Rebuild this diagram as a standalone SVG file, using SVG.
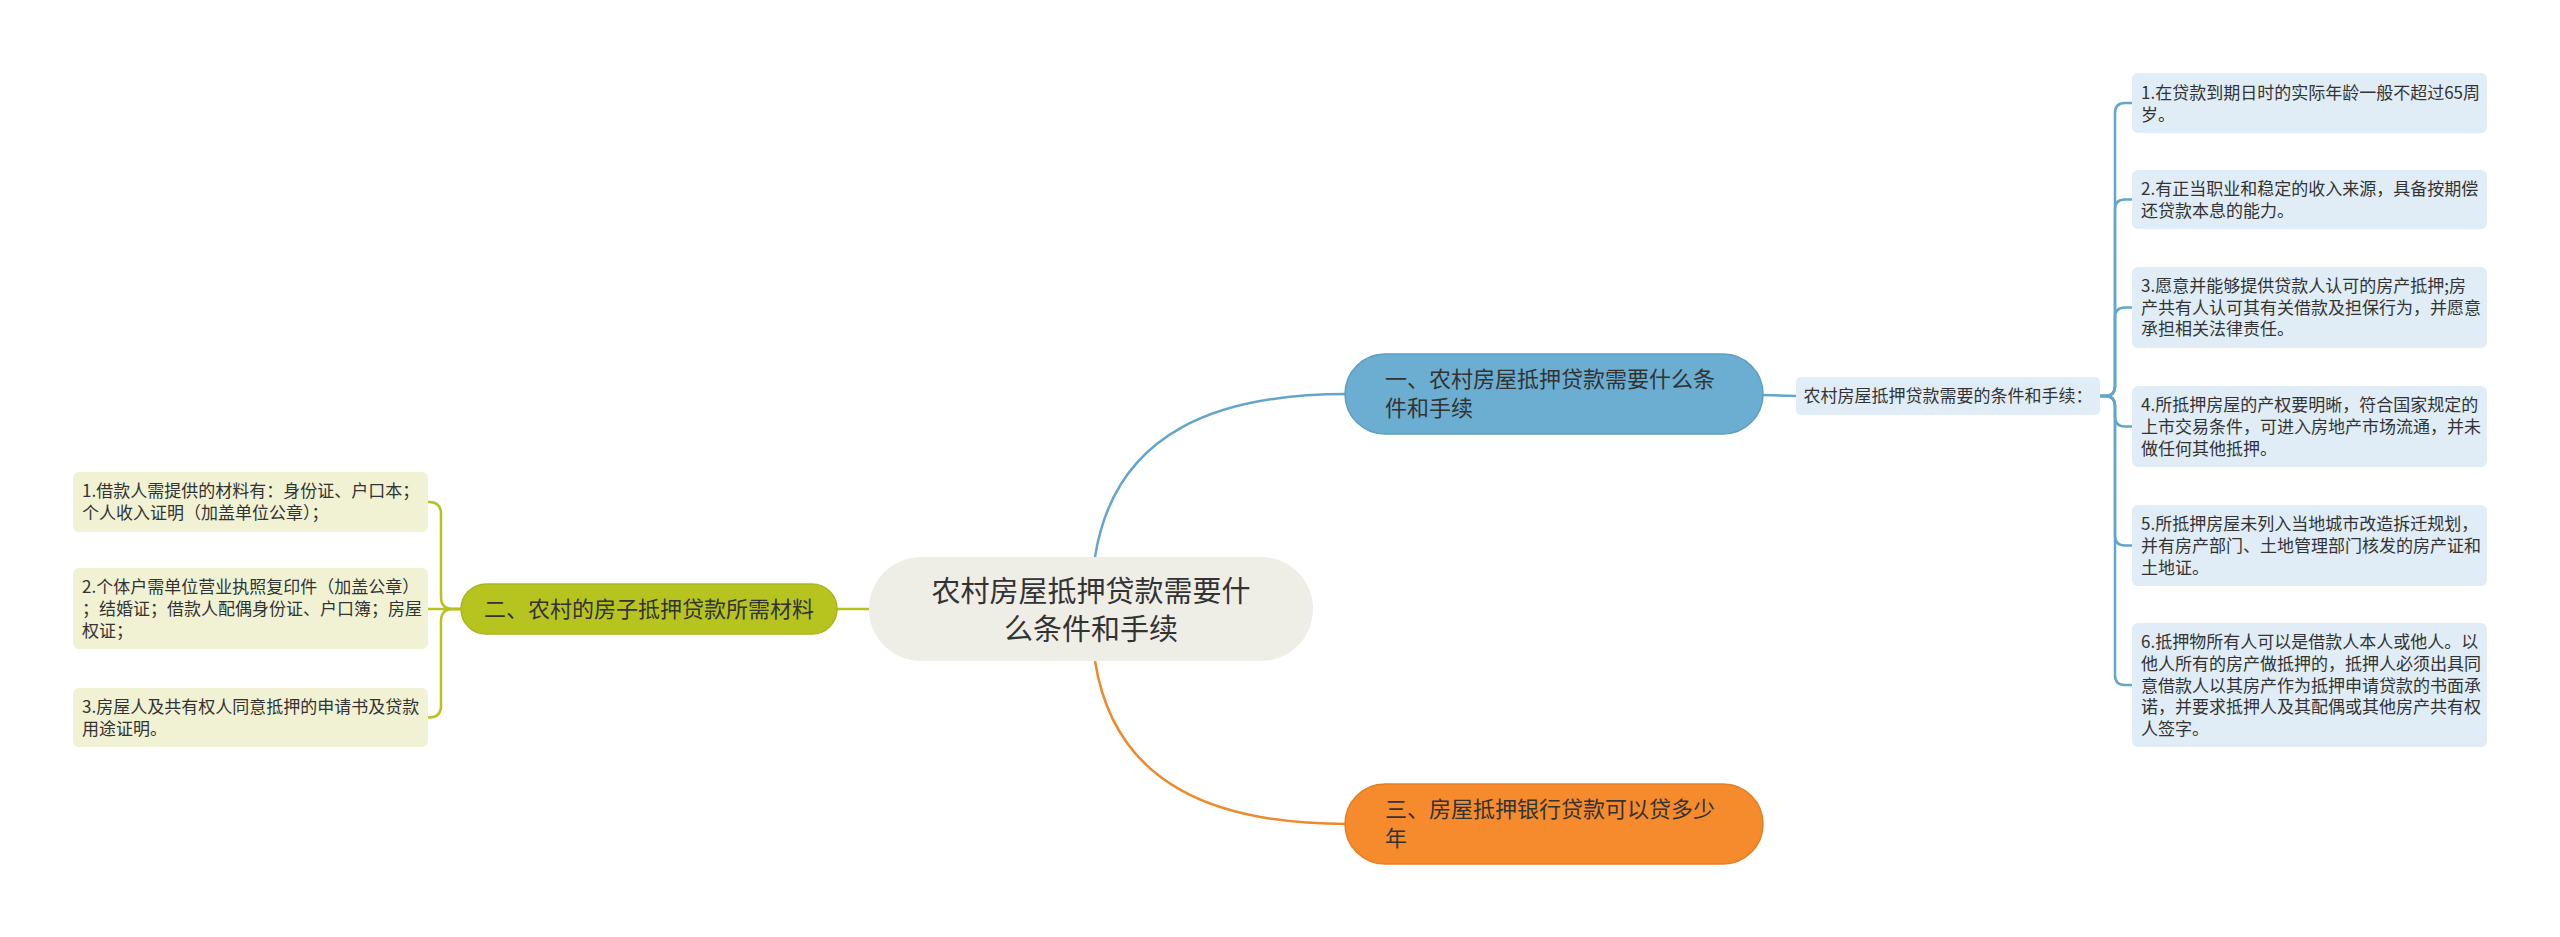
<svg xmlns="http://www.w3.org/2000/svg" width="2560" height="937" viewBox="0 0 2560 937">
<style>
text{font-family:"Noto Sans CJK SC","Noto Sans",sans-serif;fill:#333333}
.t29{font-size:29px}
.t22{font-size:22px}
.t17{font-size:17px}
.lb{fill:#E0EDF6}
.lg{fill:#F0F2D3}
.cb{fill:none;stroke:#63A6CB;stroke-width:2.5}
.cg{fill:none;stroke:#B5C21F;stroke-width:2.5}
.co{fill:none;stroke:#EE8A2C;stroke-width:2.5}
</style>
<rect width="2560" height="937" fill="#FFFFFF"/>
<g id="connectors">
<path class="cb" d="M1095 557 C1115 430 1220 394 1347 394"/>
<path class="co" d="M1095 661 C1115 788 1220 824 1347 824"/>
<path class="cg" d="M869 609 L837 609"/>
<path class="cb" d="M1763 395 L1796 396"/>
<path class="cb" d="M2100 396 L2105 396 Q2115 396 2115 386 L2115 113 Q2115 103 2125 103 L2132 103"/>
<path class="cb" d="M2100 396 L2105 396 Q2115 396 2115 386 L2115 209.5 Q2115 199.5 2125 199.5 L2132 199.5"/>
<path class="cb" d="M2100 396 L2105 396 Q2115 396 2115 386 L2115 317.5 Q2115 307.5 2125 307.5 L2132 307.5"/>
<path class="cb" d="M2100 396 L2105 396 Q2115 396 2115 406 L2115 416.5 Q2115 426.5 2125 426.5 L2132 426.5"/>
<path class="cb" d="M2100 396 L2105 396 Q2115 396 2115 406 L2115 535.5 Q2115 545.5 2125 545.5 L2132 545.5"/>
<path class="cb" d="M2100 396 L2105 396 Q2115 396 2115 406 L2115 675 Q2115 685 2125 685 L2132 685"/>
<path class="cg" d="M462 609 L453 609 Q441 609 441 597 L441 514 Q441 502 429 502 L428 502"/>
<path class="cg" d="M462 609 L428 609"/>
<path class="cg" d="M462 609 L453 609 Q441 609 441 621 L441 705.5 Q441 717.5 429 717.5 L428 717.5"/>
</g>
<g id="root">
<rect x="869" y="557" width="444" height="104" rx="52" fill="#EEEDE6"/>
<text class="t29" x="1091" y="602" text-anchor="middle">农村房屋抵押贷款需要什</text>
<text class="t29" x="1091" y="640" text-anchor="middle">么条件和手续</text>
</g>
<g id="branch1">
<rect x="1345" y="354" width="418" height="80" rx="40" fill="#6BAED2" stroke="#5C9EC3" stroke-width="1.5"/>
<text class="t22" x="1385" y="387">一、农村房屋抵押贷款需要什么条</text>
<text class="t22" x="1385" y="416">件和手续</text>
</g>
<g id="branch2">
<rect x="461" y="584" width="376" height="50" rx="25" fill="#B7C41F" stroke="#A9B61B" stroke-width="1.5"/>
<text class="t22" x="649" y="617" text-anchor="middle">二、农村的房子抵押贷款所需材料</text>
</g>
<g id="branch3">
<rect x="1345" y="784" width="418" height="80" rx="40" fill="#F68B2D" stroke="#E77D22" stroke-width="1.5"/>
<text class="t22" x="1385" y="817">三、房屋抵押银行贷款可以贷多少</text>
<text class="t22" x="1385" y="846">年</text>
</g>
<g id="sub1">
<rect class="lb" x="1796" y="377" width="304" height="38" rx="5"/>
<text class="t17" x="1948" y="402" text-anchor="middle">农村房屋抵押贷款需要的条件和手续：</text>
</g>
<g id="r1">
<rect class="lb" x="2132" y="73" width="355" height="60" rx="6"/>
<text class="t17" x="2141" y="99">1.在贷款到期日时的实际年龄一般不超过65周</text>
<text class="t17" x="2141" y="121">岁。</text>
</g>
<g id="r2">
<rect class="lb" x="2132" y="170" width="355" height="59" rx="6"/>
<text class="t17" x="2141" y="195">2.有正当职业和稳定的收入来源，具备按期偿</text>
<text class="t17" x="2141" y="217">还贷款本息的能力。</text>
</g>
<g id="r3">
<rect class="lb" x="2132" y="267" width="355" height="81" rx="6"/>
<text class="t17" x="2141" y="292">3.愿意并能够提供贷款人认可的房产抵押;房</text>
<text class="t17" x="2141" y="314">产共有人认可其有关借款及担保行为，并愿意</text>
<text class="t17" x="2141" y="335">承担相关法律责任。</text>
</g>
<g id="r4">
<rect class="lb" x="2132" y="386" width="355" height="81" rx="6"/>
<text class="t17" x="2141" y="411">4.所抵押房屋的产权要明晰，符合国家规定的</text>
<text class="t17" x="2141" y="433">上市交易条件，可进入房地产市场流通，并未</text>
<text class="t17" x="2141" y="455">做任何其他抵押。</text>
</g>
<g id="r5">
<rect class="lb" x="2132" y="505" width="355" height="81" rx="6"/>
<text class="t17" x="2141" y="530">5.所抵押房屋未列入当地城市改造拆迁规划，</text>
<text class="t17" x="2141" y="552">并有房产部门、土地管理部门核发的房产证和</text>
<text class="t17" x="2141" y="574">土地证。</text>
</g>
<g id="r6">
<rect class="lb" x="2132" y="623" width="355" height="124" rx="6"/>
<text class="t17" x="2141" y="648">6.抵押物所有人可以是借款人本人或他人。以</text>
<text class="t17" x="2141" y="670">他人所有的房产做抵押的，抵押人必须出具同</text>
<text class="t17" x="2141" y="692">意借款人以其房产作为抵押申请贷款的书面承</text>
<text class="t17" x="2141" y="713">诺，并要求抵押人及其配偶或其他房产共有权</text>
<text class="t17" x="2141" y="735">人签字。</text>
</g>
<g id="l1">
<rect class="lg" x="73" y="472" width="355" height="60" rx="6"/>
<text class="t17" x="82" y="497">1.借款人需提供的材料有：身份证、户口本；</text>
<text class="t17" x="82" y="519">个人收入证明（加盖单位公章）；</text>
</g>
<g id="l2">
<rect class="lg" x="73" y="568" width="355" height="81" rx="6"/>
<text class="t17" x="82" y="593">2.个体户需单位营业执照复印件（加盖公章）</text>
<text class="t17" x="82" y="615">；结婚证；借款人配偶身份证、户口簿；房屋</text>
<text class="t17" x="82" y="637">权证；</text>
</g>
<g id="l3">
<rect class="lg" x="73" y="688" width="355" height="59" rx="6"/>
<text class="t17" x="82" y="713">3.房屋人及共有权人同意抵押的申请书及贷款</text>
<text class="t17" x="82" y="735">用途证明。</text>
</g>
</svg>
